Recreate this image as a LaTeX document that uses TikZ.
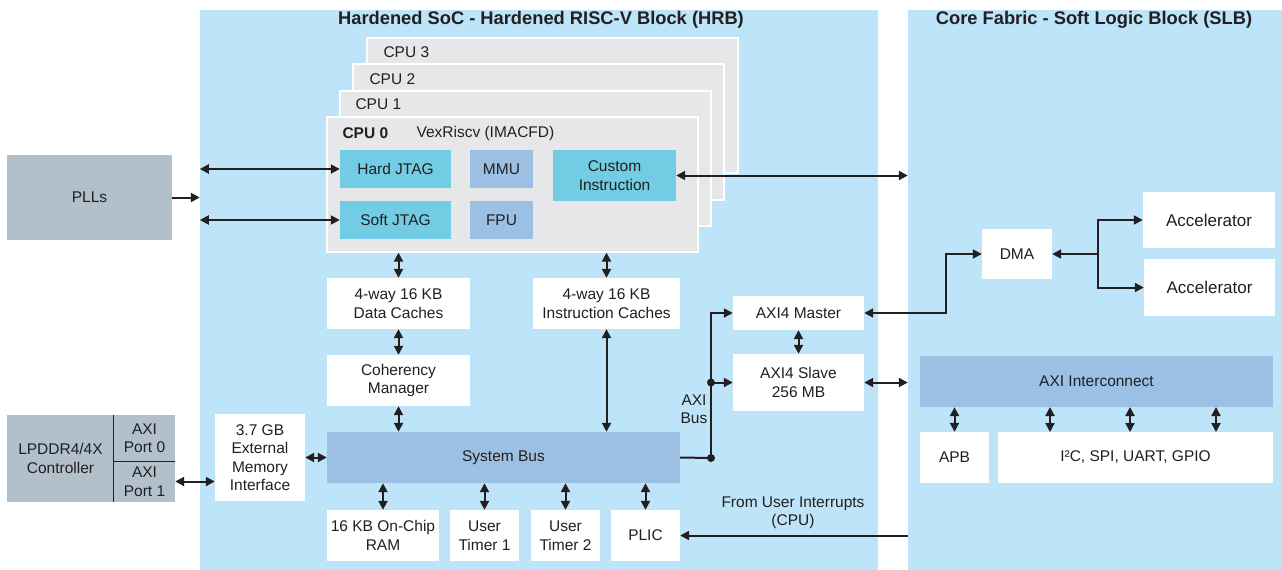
\documentclass[tikz,border=0pt]{standalone}
\usepackage{fontspec}
\setmainfont{Liberation Sans}
\usetikzlibrary{arrows.meta,fit}
\definecolor{panel}{RGB}{189,228,248}
\definecolor{ext}{RGB}{177,192,202}
\definecolor{cpugray}{RGB}{230,231,232}
\definecolor{cyanblk}{RGB}{114,204,227}
\definecolor{busblk}{RGB}{155,192,228}
\definecolor{ink}{RGB}{35,31,32}
\tikzset{
  txt/.style={font=\fontsize{15.5}{18.5}\selectfont, text=ink, align=center},
  bigtxt/.style={txt, font=\fontsize{17}{20}\selectfont},
  blk/.style={txt, inner sep=0pt, draw=none},
  whiteblk/.style={blk, fill=white},
  cyanbox/.style={blk, fill=cyanblk},
  bluebox/.style={blk, fill=busblk},
  extbox/.style={blk, fill=ext},
  cpubox/.style={blk, fill=cpugray, draw=white, line width=1.3pt},
  panelbox/.style={blk, fill=panel},
  title/.style={font=\fontsize{18.3}{21}\selectfont\bfseries, text=ink},
  tipa/.tip={Triangle[length=9pt,width=9pt]},
  wire/.style={draw=ink, line width=2pt},
  arr/.style={wire, -tipa},
  darr/.style={wire, tipa-tipa},
}
\begin{document}
\begin{tikzpicture}[x=1pt,y=-1pt]
  % canvas
  \path[use as bounding box, fill=white] (0,0) rectangle (1282,570);

  % two main regions
  \node[panelbox, fit={(200,10)(878,570)}] (hrb) {};
  \node[panelbox, fit={(908,10)(1282,570)}] (slb) {};
  \node[title] (hrbt) at (541,20) {Hardened SoC - Hardened RISC-V Block (HRB)};
  \node[title] (slbt) at (1094,20) {Core Fabric - Soft Logic Block (SLB)};

  % external blocks
  \node[extbox, fit={(7,155)(172,240)}] (pll) {};
  \node[txt] at (pll.center) {PLLs};
  \node[extbox, fit={(7,415)(175,502)}] (lpddr) {};
  \node[blk, fit={(7,415)(114,502)}] (lpctl) {};
  \node[txt] at (lpctl.center) {LPDDR4/4X\\Controller};
  \node[blk, fit={(114,415)(175,461)}] (port0) {};
  \node[txt] at (port0.center) {AXI\\Port 0};
  \node[blk, fit={(114,461)(175,502)}] (port1) {};
  \node[txt] at (port1.center) {AXI\\Port 1};
  \draw[ink, line width=0.9pt] (port0.north west) -- (port1.south west);
  \draw[ink, line width=0.9pt] (port0.south west) -- (port0.south east);

  % stacked CPU cores
  \node[cpubox, fit={(367,38)(738,173)}] (cpu3) {};
  \node[txt, anchor=west] at (380,52) {CPU 3};
  \node[cpubox, fit={(353,64)(724,200)}] (cpu2) {};
  \node[txt, anchor=west] at (366,79) {CPU 2};
  \node[cpubox, fit={(340,91)(711,226)}] (cpu1) {};
  \node[txt, anchor=west] at (352,104) {CPU 1};
  \node[cpubox, fit={(327,117)(698,252)}] (cpu0) {};
  \node[txt, anchor=west, font=\fontsize{15.5}{18.5}\selectfont\bfseries] at (339,133) {CPU 0};
  \node[txt, anchor=west] at (413,133) {VexRiscv (IMACFD)};

  \node[cyanbox, fit={(340,150)(451,188)}] (hjtag) {};
  \node[txt] at (hjtag.center) {Hard JTAG};
  \node[cyanbox, fit={(340,201)(451,239)}] (sjtag) {};
  \node[txt] at (sjtag.center) {Soft JTAG};
  \node[bluebox, fit={(470,150)(533,188)}] (mmu) {};
  \node[txt] at (mmu.center) {MMU};
  \node[bluebox, fit={(470,201)(533,239)}] (fpu) {};
  \node[txt] at (fpu.center) {FPU};
  \node[cyanbox, fit={(553,150)(676,201)}] (cust) {};
  \node[txt] at (cust.center) {Custom\\Instruction};

  % caches, coherency, system bus
  \node[whiteblk, fit={(327,278)(470,329)}] (dcache) {};
  \node[txt] at (dcache.center) {4-way 16 KB\\Data Caches};
  \node[whiteblk, fit={(533,278)(680,329)}] (icache) {};
  \node[txt] at (icache.center) {4-way 16 KB\\Instruction Caches};
  \node[whiteblk, fit={(327,355)(470,406)}] (coh) {};
  \node[txt] at (coh.center) {Coherency\\Manager};
  \node[bluebox, fit={(327,432)(680,483)}] (sysbus) {};
  \node[txt] at (sysbus.center) {System Bus};
  \node[whiteblk, fit={(215,414)(305,501)}] (emi) {};
  \node[txt] at (emi.center) {3.7 GB\\External\\Memory\\Interface};

  % peripherals on the system bus
  \node[whiteblk, fit={(327,510)(439,561)}] (ram) {};
  \node[txt] at (ram.center) {16 KB On-Chip\\RAM};
  \node[whiteblk, fit={(450,510)(519,561)}] (ut1) {};
  \node[txt] at (ut1.center) {User\\Timer 1};
  \node[whiteblk, fit={(531,510)(600,561)}] (ut2) {};
  \node[txt] at (ut2.center) {User\\Timer 2};
  \node[whiteblk, fit={(611,510)(680,561)}] (plic) {};
  \node[txt] at (plic.center) {PLIC};

  % AXI ports
  \node[whiteblk, fit={(733,296)(864,330)}] (master) {};
  \node[txt] at (master.center) {AXI4 Master};
  \node[whiteblk, fit={(733,354)(864,411)}] (slave) {};
  \node[txt] at (slave.center) {AXI4 Slave\\256 MB};
  \node[txt] (axibus) at (694,409) {AXI\\Bus};

  % soft logic side
  \node[whiteblk, fit={(982,229)(1052,279)}] (dma) {};
  \node[txt] at (dma.center) {DMA};
  \node[whiteblk, fit={(1143,192)(1275,248)}] (acc1) {};
  \node[bigtxt] at (acc1.center) {Accelerator};
  \node[whiteblk, fit={(1144,259)(1275,316)}] (acc2) {};
  \node[bigtxt] at (acc2.center) {Accelerator};
  \node[bluebox, fit={(920,356)(1273,407)}] (axic) {};
  \node[txt] at (axic.center) {AXI Interconnect};
  \node[whiteblk, fit={(920,432)(989,483)}] (apb) {};
  \node[txt] at (apb.center) {APB};
  \node[whiteblk, fit={(998,432)(1273,483)}] (periph) {};
  \node[txt] at (periph.center) {I²C, SPI, UART, GPIO};
  \node[txt] (intlbl) at (793,513) {From User Interrupts\\(CPU)};

  % clocks and debug
  \draw[arr] (pll.east) -- (pll.east -| hrb.west);
  \draw[darr] (hrb.west |- hjtag.west) -- (hjtag.west);
  \draw[darr] (hrb.west |- sjtag.west) -- (sjtag.west);
  \draw[darr] (cust.east) -- (cust.east -| slb.west);

  % cache paths
  \draw[darr] (cpu0.south -| dcache.north) -- (dcache.north);
  \draw[darr] (dcache.south) -- (coh.north);
  \draw[darr] (coh.south) -- (coh.south |- sysbus.north);
  \draw[darr] (cpu0.south -| icache.north) -- (icache.north);
  \draw[darr] (icache.south) -- (icache.south |- sysbus.north);

  % memory
  \draw[darr] (emi.east) -- (emi.east -| sysbus.west);
  \draw[darr] (port1.east) -- (port1.east -| emi.west);

  % bus peripherals
  \foreach \p in {ram,ut1,ut2,plic}
    \draw[darr] (\p.north) -- (\p.north |- sysbus.south);
  \draw[arr] (plic.east -| slb.west) -- (plic.east);

  % AXI bus
  \coordinate (axj) at (711,458);
  \draw[wire] (sysbus.east) -- (axj);
  \draw[arr] (axj) |- (master.west);
  \draw[arr] (axj |- slave.west) -- (slave.west);
  \fill[ink] (axj) circle (4);
  \fill[ink] (axj |- slave.west) circle (4);
  \draw[darr] (master.south) -- (slave.north);
  \draw[darr] (slave.east) -- (slave.east -| slb.west);

  % DMA and accelerators
  \draw[darr] (master.east) -- ++(82,0) |- (dma.west);
  \coordinate (br) at (1098,254);
  \draw[arr] (br) -- (dma.east);
  \draw[arr] (br) |- (acc1.west);
  \draw[arr] (br) |- (acc2.west);

  % interconnect links
  \draw[darr] (apb.north) -- (apb.north |- axic.south);
  \foreach \x in {1050,1130,1216}
    \draw[darr] (\x,407) -- (\x,432);
\end{tikzpicture}
\end{document}
